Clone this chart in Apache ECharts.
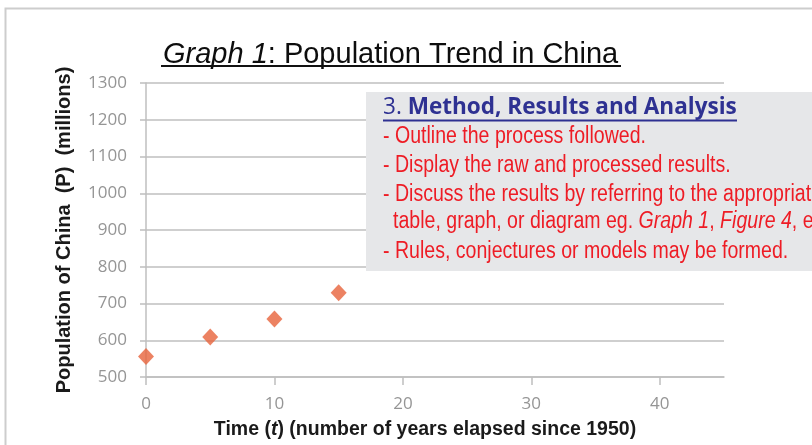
<!DOCTYPE html>
<html>
<head>
<meta charset="utf-8">
<script src="https://cdn.jsdelivr.net/npm/echarts@6/dist/echarts.min.js"></script>
<style>
html,body{margin:0;padding:0;background:#fff;}
#chart{width:812px;height:445px;}
</style>
</head>
<body>
<div id="chart"></div>
<script>
// ---- data ----
const years = [0, 5, 10, 15];
const population = [556, 609, 658, 729];
const xTicks = [0, 10, 20, 30, 40];
const yTicks = [500, 600, 700, 800, 900, 1000, 1100, 1200, 1300];
const boxLines = [
  "- Outline the process followed.",
  "- Display the raw and processed results.",
  "- Discuss the results by referring to the appropriat",
  "- Rules, conjectures or models may be formed."
];

const chart = echarts.init(document.getElementById('chart'));
const gray = '#bfbfbf';
const labelColor = '#959595';
const red = '#ee1c25';
const navy = '#2e3192';
const narrow = 0.85;
const redFont = '23px "Liberation Sans", Arial, sans-serif';

function redLine(text, x, y) {
  return {type: 'text', z: 101, silent: true, x: x, y: y, scaleX: narrow,
    style: {text: text, font: redFont, fill: red, verticalAlign: 'middle'}};
}

const nameBase = {fontFamily: 'Liberation Sans', fontWeight: 'bold', fontSize: 19.5, color: '#1a1a1a'};

const option = {
  backgroundColor: '#ffffff',
  animation: false,
  title: {
    text: '{i|Graph 1}{n|: Population Trend in China}',
    left: 158, top: 35,
    textStyle: {
      fontWeight: 'normal',
      rich: {
        i: {fontFamily: 'Liberation Sans', fontSize: 29, fontWeight: 'normal', fontStyle: 'italic', color: '#0d0d0d'},
        n: {fontFamily: 'Liberation Sans', fontSize: 29, fontWeight: 'normal', color: '#0d0d0d'}
      }
    }
  },
  grid: {left: 146, right: 88, top: 83, bottom: 68},
  xAxis: {
    type: 'value', min: 0, max: 45,
    name: '{n|Time (}{i|t}{n|) (number of years elapsed since 1950)}',
    nameLocation: 'middle', nameGap: 43,
    nameTextStyle: Object.assign({}, nameBase, {
      padding: [0, 20, 0, 0],
      rich: {
        n: Object.assign({}, nameBase),
        i: Object.assign({}, nameBase, {fontStyle: 'italic'})
      }
    }),
    axisLine: {show: true, lineStyle: {color: gray, width: 1.5}},
    axisTick: {show: true, length: 8, lineStyle: {color: gray, width: 1.5}, customValues: xTicks},
    axisLabel: {customValues: xTicks, color: labelColor, fontFamily: 'Open Sans', fontSize: 17, margin: 19},
    splitLine: {show: false}
  },
  yAxis: {
    type: 'value', min: 500, max: 1300, interval: 100,
    name: 'Population of China  (P)  (millions)',
    nameLocation: 'middle', nameGap: 72,
    nameTextStyle: {fontFamily: 'Liberation Sans', fontWeight: 'bold', fontSize: 20, color: '#1a1a1a'},
    axisLine: {show: true, lineStyle: {color: gray, width: 1.5}},
    axisTick: {show: true, length: 6, lineStyle: {color: gray, width: 1.5}},
    axisLabel: {color: labelColor, fontFamily: 'Open Sans', fontSize: 17, margin: 19,
      formatter: v => String(v)},
    splitLine: {show: true, lineStyle: {color: gray, width: 1.5}}
  },
  series: [{
    type: 'scatter',
    data: years.map((t, i) => [t, population[i]]),
    symbol: 'diamond',
    symbolSize: [16, 17],
    itemStyle: {color: '#e7633b'}
  }],
  graphic: [
    {type: 'rect', z: 1, silent: true, shape: {x: 5.5, y: 8.5, width: 900, height: 500},
     style: {fill: 'none', stroke: '#cdcdcd', lineWidth: 2}},
    {type: 'line', z: 10, silent: true, shape: {x1: 161, y1: 66, x2: 621, y2: 66},
     style: {stroke: '#111', lineWidth: 2}},
    {type: 'rect', z: 100, silent: true, shape: {x: 366, y: 92, width: 460, height: 179},
     style: {fill: '#e6e7e9'}},
    {type: 'text', z: 101, silent: true, x: 383, y: 107, scaleX: 0.98,
     style: {
       text: '{a|3. }{b|Method, Results and Analysis}',
       verticalAlign: 'middle',
       rich: {
         a: {fontFamily: 'Open Sans', fontSize: 23, fill: navy, color: navy},
         b: {fontFamily: 'Open Sans', fontSize: 23, fontWeight: 'bold', fill: navy, color: navy}
       }
     }},
    {type: 'line', z: 101, silent: true, shape: {x1: 383, y1: 120.5, x2: 737, y2: 120.5},
     style: {stroke: navy, lineWidth: 2}},
    redLine(boxLines[0], 383, 137),
    redLine(boxLines[1], 383, 166),
    redLine(boxLines[2], 383, 194.5),
    {type: 'text', z: 101, silent: true, x: 393, y: 221.5, scaleX: narrow,
     style: {
       text: '{n|table, graph, or diagram eg. }{i|Graph 1}{n|, }{i|Figure 4}{n|, e}',
       verticalAlign: 'middle',
       rich: {
         n: {fontFamily: 'Liberation Sans', fontSize: 23, color: red, fill: red},
         i: {fontFamily: 'Liberation Sans', fontSize: 23, fontStyle: 'italic', color: red, fill: red}
       }
     }},
    redLine(boxLines[3], 383, 252)
  ]
};
chart.setOption(option);
</script>
</body>
</html>
